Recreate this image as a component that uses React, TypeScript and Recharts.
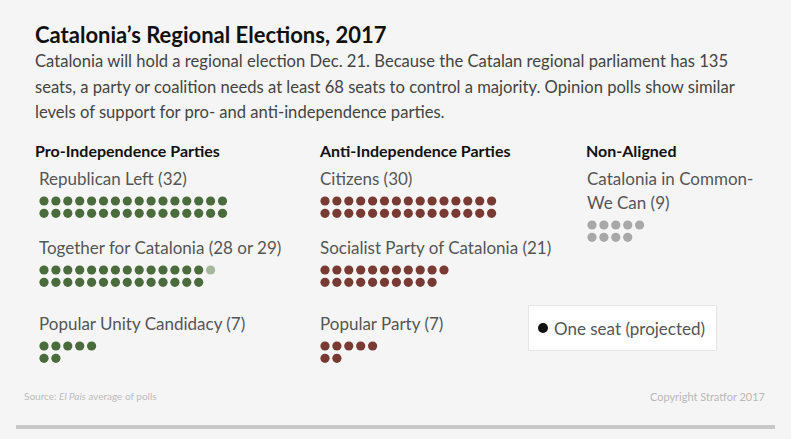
import { Scatter, ScatterChart, XAxis, YAxis } from 'recharts';

// ---- data ----
const GROUP_TITLES = ['Pro-Independence Parties', 'Anti-Independence Parties', 'Non-Aligned'];
const PARTY_LABELS = [
  'Republican Left (32)',
  'Together for Catalonia (28 or 29)',
  'Popular Unity Candidacy (7)',
  'Citizens (30)',
  'Socialist Party of Catalonia (21)',
  'Popular Party (7)',
  'Catalonia in Common-\nWe Can (9)',
];
const PARTY_GROUP = [0, 0, 0, 1, 1, 1, 2];
const PARTY_SEATS = [32, 28, 7, 30, 21, 7, 9];
const PARTY_UNCERTAIN = [0, 1, 0, 0, 0, 0, 0]; // possible extra seat
const SUBTITLE_LINES = [
  'Catalonia will hold a regional election Dec. 21. Because the Catalan regional parliament has 135',
  'seats, a party or coalition needs at least 68 seats to control a majority. Opinion polls show similar',
  'levels of support for pro- and anti-independence parties.',
];

// ---- styles / layout ----
const W = 791;
const H = 439;
const FONT = 'Lato, "Open Sans", sans-serif';
const GROUP_COLORS = ['#4a6b3b', '#7a3a34', '#a8a8a8'];
const UNCERTAIN_COLORS = ['#a5b89b', '#c49c98', '#d0d0d0'];
const COL_X = [35, 320, 586];
const LABEL_X = [39, 320, 587];
const DOT_X0 = [44, 325, 592];
const SLOT_LABEL_Y = [179, 248, 324];
const DOT_PITCH = 11.9;
const ROW_PITCH = 12.3;
const LABEL_LINE = 24;
const MIN_ROW = 5;

type Dot = { x: number; y: number; uncertain: boolean };

function slotOf(idx: number) {
  return PARTY_GROUP.slice(0, idx).filter((g) => g === PARTY_GROUP[idx]).length;
}

function buildDots(idx: number): Dot[] {
  const g = PARTY_GROUP[idx];
  const total = PARTY_SEATS[idx] + PARTY_UNCERTAIN[idx];
  const perRow = Math.max(MIN_ROW, Math.ceil(total / 2));
  const lines = PARTY_LABELS[idx].split('\n').length;
  const y0 = SLOT_LABEL_Y[slotOf(idx)] + (lines - 1) * LABEL_LINE + 22;
  const dots: Dot[] = [];
  for (let i = 0; i < total; i++) {
    const row = i < perRow ? 0 : 1;
    const col = row === 0 ? i : i - perRow;
    dots.push({
      x: DOT_X0[g] + col * DOT_PITCH,
      y: y0 + row * ROW_PITCH,
      uncertain: row === 0 && PARTY_UNCERTAIN[idx] > 0 && col === perRow - 1,
    });
  }
  return dots;
}

const abs = (left: number, top: number): React.CSSProperties => ({
  position: 'absolute',
  left,
  top,
  whiteSpace: 'pre',
});

export default function App() {
  return (
    <div
      style={{
        position: 'relative',
        width: W,
        height: H,
        background: '#f5f5f5',
        fontFamily: FONT,
        overflow: 'hidden',
      }}
    >
      <style>{'body{margin:0}'}</style>
      <ScatterChart
        width={W}
        height={H}
        margin={{ top: 0, right: 0, bottom: 0, left: 0 }}
        style={{ position: 'absolute', left: 0, top: 0 }}
      >
        <XAxis type="number" dataKey="x" domain={[0, W]} hide />
        <YAxis type="number" dataKey="y" domain={[0, H]} reversed hide />
        {PARTY_LABELS.map((label, idx) => (
          <Scatter
            key={label}
            data={buildDots(idx)}
            isAnimationActive={false}
            shape={(p: any) => (
              <circle
                cx={p.cx}
                cy={p.cy}
                r={4.6}
                fill={
                  p.payload.uncertain
                    ? UNCERTAIN_COLORS[PARTY_GROUP[idx]]
                    : GROUP_COLORS[PARTY_GROUP[idx]]
                }
              />
            )}
          />
        ))}
      </ScatterChart>

      <div style={{ ...abs(35, 21), fontSize: 22, fontWeight: 700, color: '#111' }}>
        Catalonia’s Regional Elections, 2017
      </div>
      {SUBTITLE_LINES.map((line, i) => (
        <div
          key={i}
          style={{
            ...abs(35, 49 + i * 25.5),
            fontSize: 16.6,
            lineHeight: '25px',
            color: '#444',
          }}
        >
          {line}
        </div>
      ))}

      {GROUP_TITLES.map((t, g) => (
        <div
          key={t}
          style={{ ...abs(COL_X[g], 141), fontSize: 16, fontWeight: 700, color: '#111' }}
        >
          {t}
        </div>
      ))}

      {PARTY_LABELS.map((label, idx) => {
        const g = PARTY_GROUP[idx];
        return (
          <div
            key={label}
            style={{
              ...abs(LABEL_X[g], SLOT_LABEL_Y[slotOf(idx)] - 12),
              fontSize: 17,
              lineHeight: `${LABEL_LINE}px`,
              color: '#555',
            }}
          >
            {label}
          </div>
        );
      })}

      <div
        style={{
          position: 'absolute',
          left: 528,
          top: 305,
          width: 189,
          height: 46,
          boxSizing: 'border-box',
          background: '#ffffff',
          border: '1px solid #e6e6e6',
          display: 'flex',
          alignItems: 'center',
          paddingLeft: 9,
          fontSize: 17,
          color: '#555',
        }}
      >
        <span
          style={{
            display: 'inline-block',
            width: 10,
            height: 10,
            borderRadius: 5,
            background: '#111',
            marginRight: 6,
          }}
        />
        One seat (projected)
      </div>

      <div style={{ ...abs(24, 390), fontSize: 10, color: '#bdbdbd' }}>
        Source: <i>El Pais</i> average of polls
      </div>
      <div
        style={{
          position: 'absolute',
          right: 26,
          top: 390,
          fontSize: 11,
          color: '#b8b8b8',
        }}
      >
        Copyright Stratfor 2017
      </div>
      <div
        style={{
          position: 'absolute',
          left: 16,
          top: 425,
          width: 759,
          height: 4,
          background: '#c8c8c8',
        }}
      />
    </div>
  );
}
